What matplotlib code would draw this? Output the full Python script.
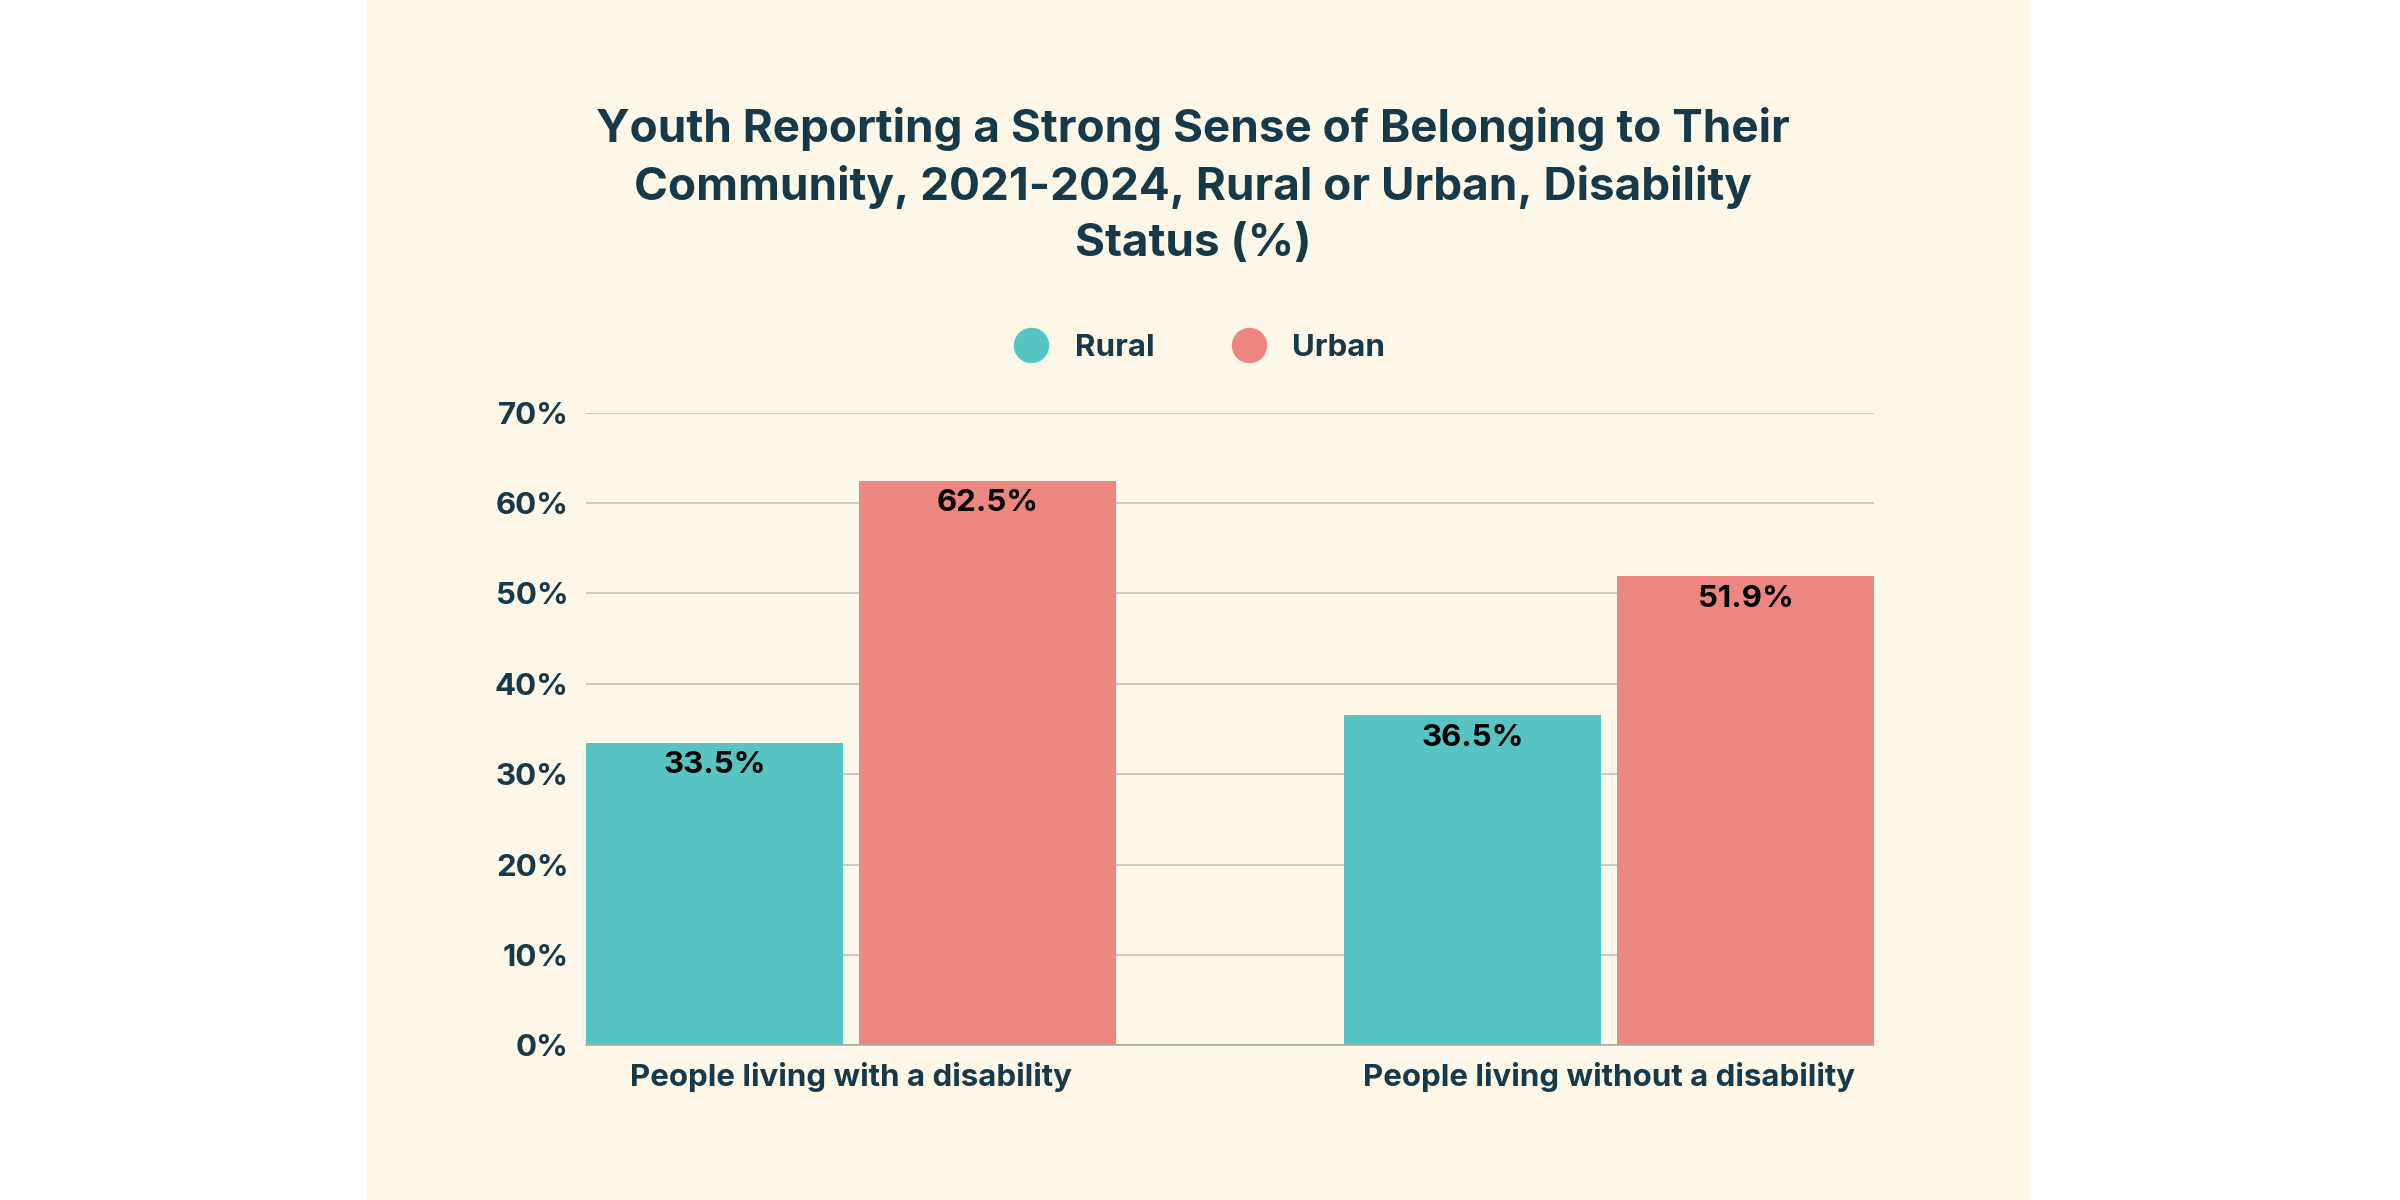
"""
Youth sense of belonging by rural/urban and disability status, as a grouped bar chart.
"""

import matplotlib.pyplot as plt
import matplotlib.ticker as ticker
from matplotlib.lines import Line2D
from matplotlib.patches import Rectangle

groups = ["People living with a disability", "People living without a disability"]
rural = [33.5, 36.5]
urban = [62.5, 51.9]
yticks = [0, 10, 20, 30, 40, 50, 60, 70]

TEXT = "#163A4A"
TEAL = "#57C4C4"
SALMON = "#EC8680"
CREAM = "#FDF7E7"


def plot_bars(out_path: str):
    """Draw the grouped bars on a cream panel and save the figure."""
    plt.rcParams["font.family"] = ["Inter", "DejaVu Sans"]
    fig = plt.figure(figsize=(16, 8), dpi=150)
    fig.patch.set_facecolor("white")
    fig.patches.append(Rectangle((0.153, 0), 0.693, 1, transform=fig.transFigure,
                                 facecolor=CREAM, edgecolor="none", zorder=-5))

    ax = fig.add_axes([0.244, 0.129, 0.537, 0.527])
    ax.set_facecolor("none")

    x = range(len(groups))
    w = 0.34
    b1 = ax.bar([i - 0.18 for i in x], rural, width=w, color=TEAL, zorder=2)
    b2 = ax.bar([i + 0.18 for i in x], urban, width=w, color=SALMON, zorder=2)
    for bars in (b1, b2):
        for bar in bars:
            h = bar.get_height()
            ax.annotate(f"{h:.1f}%", xy=(bar.get_x() + bar.get_width() / 2, h),
                        xytext=(0, -4), textcoords="offset points", ha="center", va="top",
                        fontsize=15, fontweight="bold", color="black")

    ax.set_xlim(-0.35, 1.35)
    ax.set_ylim(0, 70)
    ax.set_yticks(yticks)
    ax.yaxis.set_major_formatter(ticker.FuncFormatter(lambda y, _: f"{y:.0f}%"))
    ax.set_xticks(list(x))
    ax.set_xticklabels(groups)
    ax.tick_params(length=0, labelsize=15, labelcolor=TEXT, pad=8)
    for lbl in ax.get_xticklabels() + ax.get_yticklabels():
        lbl.set_fontweight("bold")
    ax.grid(axis="y", color="#C9CCC4", linewidth=1, zorder=0)
    for s in ["top", "right", "left"]:
        ax.spines[s].set_visible(False)
    ax.spines["bottom"].set_color("#A8B0AC")

    fig.text(0.497, 0.845, "Youth Reporting a Strong Sense of Belonging to Their\n"
             "Community, 2021-2024, Rural or Urban, Disability\nStatus (%)",
             ha="center", va="center", fontsize=22, fontweight="bold", color=TEXT,
             linespacing=1.4)
    handles = [Line2D([], [], marker="o", linestyle="none", markersize=16, color=TEAL),
               Line2D([], [], marker="o", linestyle="none", markersize=16, color=SALMON)]
    fig.legend(handles, ["Rural", "Urban"], loc="center", bbox_to_anchor=(0.497, 0.71),
               ncol=2, frameon=False, handletextpad=0.4, columnspacing=2.0,
               prop={"weight": "bold", "size": 15}, labelcolor=TEXT)

    fig.savefig(out_path, dpi=150)
    plt.close(fig)


if __name__ == "__main__":
    plot_bars("out.png")
